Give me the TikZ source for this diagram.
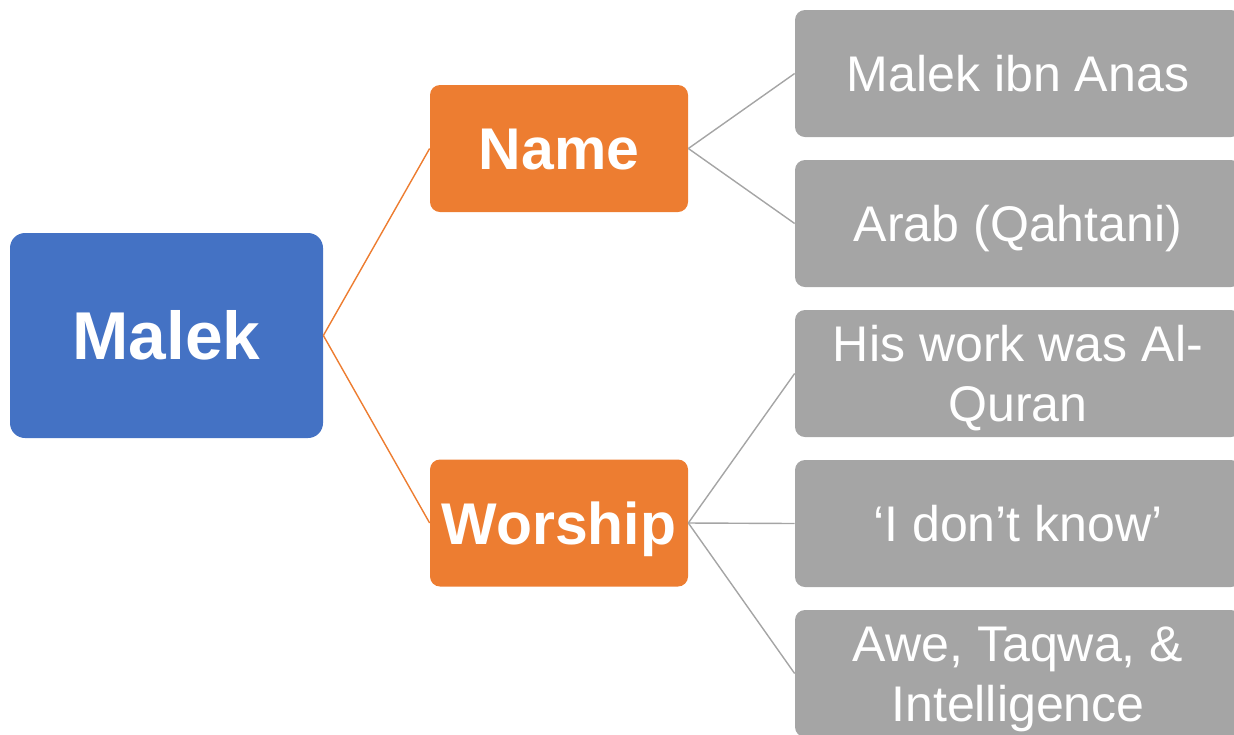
\documentclass[tikz,border=0pt]{standalone}
\usepackage{fontspec}
\setmainfont{Liberation Sans}
\definecolor{malekblue}{HTML}{4472C4}
\definecolor{branchorange}{HTML}{ED7D31}
\definecolor{leafgray}{HTML}{A5A5A5}
\begin{document}
\begin{tikzpicture}[
    rootbox/.style={fill=malekblue, text=white, rounded corners=0.3cm,
        minimum width=6.26cm, minimum height=4.1cm, inner sep=0pt,
        text height=27.6pt, text depth=0pt,
        font=\fontsize{38.5}{46}\selectfont\bfseries},
    branchbox/.style={fill=branchorange, text=white, rounded corners=0.2cm,
        minimum width=5.16cm, minimum height=2.54cm, inner sep=0pt,
        text height=24pt, text depth=0pt,
        font=\fontsize{33.5}{40}\selectfont\bfseries},
    leafbox/.style={fill=leafgray, text=white, rounded corners=0.2cm,
        minimum width=8.92cm, minimum height=2.54cm, inner sep=0pt, align=center,
        text height=20.4pt, text depth=0pt,
        font=\fontsize{28.5}{33.7}\selectfont},
    twolines/.style={text height=54.1pt},
    branchline/.style={draw=branchorange, line width=0.8pt},
    leafline/.style={draw=leafgray, line width=0.8pt}]
    \clip (0,0) rectangle (24.68,-14.68);
    % root and branches
    \node[rootbox](M) at (3.33,-6.71) {Malek};
    \node[branchbox](N) at (11.18,-2.97) {Name};
    \node[branchbox](W) at (11.18,-10.46) {Worship};
    % leaves
    \node[leafbox](N1) at (20.36,-1.47) {Malek ibn Anas};
    \node[leafbox](N2) at (20.36,-4.47) {Arab (Qahtani)};
    \node[leafbox,twolines](W1) at (20.36,-7.47) {His work was Al-\\Quran};
    \node[leafbox](W2) at (20.36,-10.47) {‘I don’t know’};
    \node[leafbox,twolines](W3) at (20.36,-13.47) {Awe, Taqwa, \&\\Intelligence};
    % connectors
    \draw[branchline](M.east) -- (N.west);
    \draw[branchline](M.east) -- (W.west);
    \draw[leafline](N.east) -- (N1.west);
    \draw[leafline](N.east) -- (N2.west);
    \draw[leafline](W.east) -- (W1.west);
    \draw[leafline](W.east) -- (W2.west);
    \draw[leafline](W.east) -- (W3.west);
\end{tikzpicture}
\end{document}
